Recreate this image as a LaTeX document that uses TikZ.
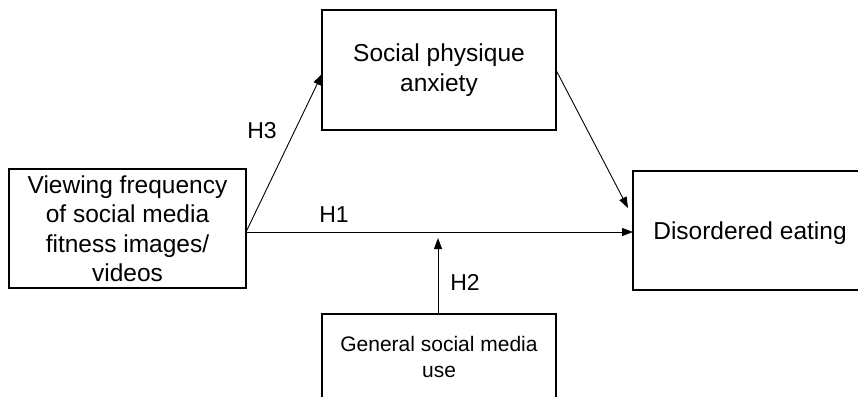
\documentclass[tikz,border=0pt]{standalone}
\usepackage{fontspec}
\setmainfont{Liberation Sans}
\usetikzlibrary{arrows.meta}
\begin{document}
\begin{tikzpicture}[x=1pt,y=-1pt,
  box/.style={draw=black,line width=1.6pt,minimum width=234pt,minimum height=120pt,inner sep=0pt,align=center},
  big/.style={font=\fontsize{24.5}{29.5}\selectfont},
  small/.style={font=\fontsize{21}{26}\selectfont},
  hlab/.style={font=\fontsize{23}{24}\selectfont,inner sep=0pt},
  arr/.style={draw=black,line width=0.9pt,-{Triangle[length=11pt,width=8pt]}}]
\useasboundingbox (0,0) rectangle (858,396);
\clip (0,0) rectangle (858,396);
\node[box,big,minimum width=237pt,minimum height=119pt] (vf) at (127.5,228.5)
  {Viewing frequency\\of social media\\fitness images/\\videos};
\node[box,big] (spa) at (439,70) {Social physique\\anxiety};
\node[box,big,minimum height=119pt] (de) at (750,230.5) {};
\node[big,inner sep=0pt] (det) at (750,233) {Disordered eating};
\node[box,minimum height=120pt] (gsm) at (439,374) {};
\node[small,align=center,inner sep=0pt] (gsmt) at (439,357) {General social media\\use};
\coordinate (src) at (246,232);
\coordinate (h1end) at (633,232);
\coordinate (h3end) at (322,74);
\coordinate (spaout) at (556,70);
\coordinate (deend) at (628,208);
\coordinate (h2start) at (438,314);
\coordinate (h2end) at (438,238);
\draw[arr] (src) -- (h3end);
\draw[arr] (src) -- (h1end);
\draw[arr] (spaout) -- (deend);
\draw[arr] (h2start) -- (h2end);
\node[hlab] (h3) at (262,131) {H3};
\node[hlab] (h1) at (334,215) {H1};
\node[hlab] (h2) at (465,282) {H2};
\end{tikzpicture}
\end{document}
